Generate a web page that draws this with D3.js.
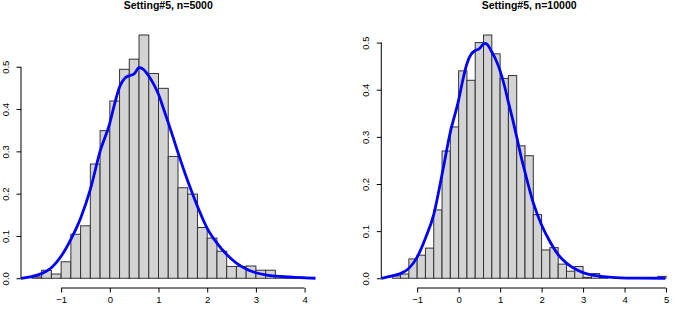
<!DOCTYPE html>
<html>
<head>
<meta charset="utf-8">
<script src="https://cdn.jsdelivr.net/npm/d3@7"></script>
<style>
body { margin: 0; background: #fff; }
svg { display: block; }
</style>
</head>
<body>
<div id="chart"></div>
<script>
// histogram bins: left edge of each 0.2-wide bin, and density of that bin
const bins5000 = [-1.6, -1.4, -1.2, -1.0, -0.8, -0.6, -0.4, -0.2, 0.0, 0.2, 0.4, 0.6, 0.8, 1.0,
    1.2, 1.4, 1.6, 1.8, 2.0, 2.2, 2.4, 2.6, 2.8, 3.0, 3.2, 3.4, 3.6, 3.8];
const dens5000 = [0.003, 0.019, 0.010, 0.039, 0.104, 0.124, 0.270, 0.349, 0.419, 0.494, 0.518, 0.575, 0.484, 0.449,
    0.288, 0.214, 0.199, 0.120, 0.095, 0.064, 0.028, 0.028, 0.029, 0.019, 0.019, 0.004, 0.003, 0.003];

const bins10000 = [-1.6, -1.4, -1.2, -1.0, -0.8, -0.6, -0.4, -0.2, 0.0, 0.2, 0.4, 0.6, 0.8, 1.0,
    1.2, 1.4, 1.6, 1.8, 2.0, 2.2, 2.4, 2.6, 2.8, 3.0, 3.2, 3.4, 3.6, 3.8, 4.0, 4.2, 4.4, 4.6, 4.8];
const dens10000 = [0.005, 0.009, 0.041, 0.049, 0.064, 0.145, 0.270, 0.321, 0.440, 0.420, 0.500, 0.516, 0.476, 0.424,
    0.430, 0.281, 0.260, 0.135, 0.060, 0.065, 0.030, 0.015, 0.025, 0.002, 0.010, 0.002, 0, 0, 0, 0, 0, 0, 0.004];

// kernel density estimate
const kdeX5000 = [-1.824, -1.6, -1.4, -1.2, -1.0, -0.8, -0.6, -0.4, -0.2, 0.0, 0.1, 0.2, 0.3, 0.4, 0.5, 0.6, 0.7,
    0.8, 0.9, 1.0, 1.1, 1.2, 1.3, 1.4, 1.6, 1.8, 2.0, 2.2, 2.4, 2.6, 2.8, 3.0, 3.2, 3.4, 3.7, 4.0, 4.224];
const kdeY5000 = [0.0, 0.004, 0.011, 0.025, 0.052, 0.092, 0.142, 0.21, 0.30, 0.367, 0.413, 0.452, 0.472, 0.479, 0.483, 0.498, 0.493,
    0.478, 0.459, 0.435, 0.402, 0.368, 0.333, 0.297, 0.23, 0.17, 0.118, 0.083, 0.056, 0.036, 0.022, 0.013, 0.008, 0.005, 0.003, 0.001, 0.0];

const kdeX10000 = [-1.864, -1.6, -1.4, -1.2, -1.0, -0.8, -0.6, -0.4, -0.2, 0.0, 0.1, 0.2, 0.3, 0.4, 0.5, 0.6, 0.65, 0.7,
    0.8, 0.9, 1.0, 1.1, 1.2, 1.3, 1.4, 1.5, 1.6, 1.8, 2.0, 2.2, 2.4, 2.6, 2.8, 3.0, 3.2, 3.5, 3.9, 4.3, 4.98];
const kdeY10000 = [0.0, 0.005, 0.010, 0.021, 0.045, 0.085, 0.135, 0.22, 0.31, 0.378, 0.42, 0.455, 0.475, 0.483, 0.487, 0.497, 0.498, 0.495,
    0.48, 0.463, 0.44, 0.41, 0.373, 0.338, 0.30, 0.26, 0.225, 0.16, 0.113, 0.078, 0.05, 0.032, 0.02, 0.012, 0.007, 0.0035, 0.001, 0.0003, 0.0];

const xTicks5000 = [-1, 0, 1, 2, 3, 4];
const xTicks10000 = [-1, 0, 1, 2, 3, 4, 5];
const yTicks = [0, 0.1, 0.2, 0.3, 0.4, 0.5];
const binWidth = 0.2;

const W = 677, H = 311;
const font = "'Liberation Sans', Arial, Helvetica, sans-serif";

const svg = d3.select("#chart")
    .append("svg")
    .attr("width", W)
    .attr("height", H);

function drawPanel(opts) {
    const top = 25.3, bottom = 288;

    // R style limits: range of the breaks (x) or densities (y) plus 4% each side
    const lo = opts.bins[0], hi = opts.bins[opts.bins.length - 1] + binWidth;
    const padX = (hi - lo) * 0.04;
    const x = d3.scaleLinear()
        .domain([lo - padX, hi + padX])
        .range([opts.left, opts.right]);

    const ymax = d3.max(opts.dens);
    const y = d3.scaleLinear()
        .domain([-ymax * 0.04, ymax * 1.04])
        .range([bottom, top]);

    const g = svg.append("g");

    // Bars
    g.selectAll(".bar")
        .data(opts.bins)
        .join("rect")
        .attr("class", "bar")
        .attr("x", d => x(d))
        .attr("width", d => x(d + binWidth) - x(d))
        .attr("y", (d, i) => y(opts.dens[i]))
        .attr("height", (d, i) => y(0) - y(opts.dens[i]))
        .attr("fill", "#d3d3d3")
        .attr("stroke", "#333")
        .attr("stroke-width", 1);

    // Density curve
    const line = d3.line()
        .x(d => x(d[0]))
        .y(d => y(d[1]))
        .curve(d3.curveMonotoneX);
    g.append("path")
        .datum(d3.zip(opts.kx, opts.ky))
        .attr("d", line)
        .attr("fill", "none")
        .attr("stroke", "#0000ff")
        .attr("stroke-width", 2.8)
        .attr("stroke-linejoin", "round");

    // x axis, line only between first and last tick
    const xa = g.append("g")
        .attr("transform", `translate(0,${bottom})`)
        .call(d3.axisBottom(x).tickValues(opts.xTicks).tickFormat(d3.format("d")).tickSize(4.5).tickPadding(3.5));
    xa.select(".domain").remove();
    xa.append("line")
        .attr("x1", x(opts.xTicks[0]))
        .attr("x2", x(opts.xTicks[opts.xTicks.length - 1]))
        .attr("stroke", "#000");

    // y axis, rotated labels
    const ya = g.append("g")
        .attr("transform", `translate(${opts.left},0)`)
        .call(d3.axisLeft(y).tickValues(yTicks).tickFormat(d3.format(".1f")).tickSize(4.5));
    ya.select(".domain").remove();
    ya.append("line")
        .attr("y1", y(yTicks[0]))
        .attr("y2", y(yTicks[yTicks.length - 1]))
        .attr("stroke", "#000");
    ya.selectAll(".tick text")
        .attr("x", null)
        .attr("dy", null)
        .attr("text-anchor", "middle")
        .attr("transform", "translate(-12,0) rotate(-90)");

    g.selectAll(".tick line").attr("stroke", "#000");
    g.selectAll("text")
        .attr("font-family", font)
        .attr("font-size", 9.5)
        .attr("fill", "#000");
    xa.attr("font-family", font);
    ya.attr("font-family", font);

    g.append("text")
        .attr("x", (opts.left + opts.right) / 2)
        .attr("y", 9)
        .attr("text-anchor", "middle")
        .attr("font-family", font)
        .attr("font-weight", "bold")
        .attr("font-size", 10.5)
        .text(opts.title);
}

drawPanel({
    title: "Setting#5, n=5000",
    bins: bins5000, dens: dens5000,
    kx: kdeX5000, ky: kdeY5000,
    xTicks: xTicks5000,
    left: 21, right: 315.5
});

drawPanel({
    title: "Setting#5, n=10000",
    bins: bins10000, dens: dens10000,
    kx: kdeX10000, ky: kdeY10000,
    xTicks: xTicks10000,
    left: 381.3, right: 677
});
</script>
</body>
</html>
